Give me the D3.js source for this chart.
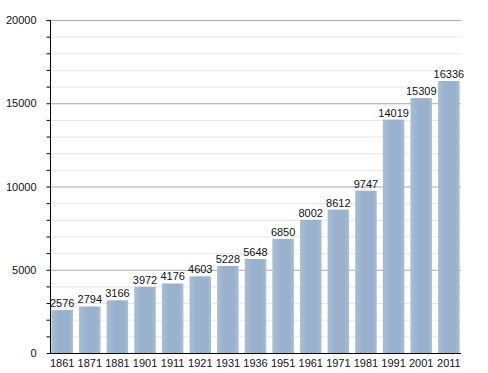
<!DOCTYPE html>
<html>
<head>
<meta charset="utf-8">
<script src="https://cdn.jsdelivr.net/npm/d3@7"></script>
<style>
  body { margin: 0; background: #fff; }
  text { font-family: "Liberation Sans", Arial, sans-serif; fill: #111; }
</style>
</head>
<body>
<div id="chart"></div>
<script>
var years = ['1861', '1871', '1881', '1901', '1911', '1921', '1931', '1936', '1951', '1961', '1971', '1981', '1991', '2001', '2011']
var population = [2576, 2794, 3166, 3972, 4176, 4603, 5228, 5648, 6850, 8002, 8612, 9747, 14019, 15309, 16336]
var majorTicks = [0, 5000, 10000, 15000, 20000]

var W = 488, H = 373
var margin = {top: 20, right: 27, bottom: 20, left: 50}

var svg = d3.select('#chart').append('svg')
  .attr('width', W)
  .attr('height', H)

var defs = svg.append('defs')
var grad = defs.append('linearGradient').attr('id', 'barGrad')
  .attr('x1', '0%').attr('x2', '100%').attr('y1', '0%').attr('y2', '0%')
grad.append('stop').attr('offset', '0%').attr('stop-color', '#a9bed6')
grad.append('stop').attr('offset', '35%').attr('stop-color', '#98b1cd')
grad.append('stop').attr('offset', '80%').attr('stop-color', '#98b1cd')
grad.append('stop').attr('offset', '100%').attr('stop-color', '#aabfd7')

var x = d3.scaleBand()
  .domain(years)
  .range([margin.left, W - margin.right])
  .paddingInner(0.22)
  .paddingOuter(0.05)

var y = d3.scaleLinear()
  .domain([0, 20000])
  .range([H - margin.bottom, margin.top])

// grid lines: light every 1000, darker every 5000
var minor = d3.range(1000, 20001, 1000).filter(function(v){ return v % 5000 != 0 })
svg.append('g').selectAll('line')
  .data(minor)
  .enter().append('line')
  .attr('x1', margin.left).attr('x2', W - margin.right)
  .attr('y1', function(d){ return y(d) + 0.5 })
  .attr('y2', function(d){ return y(d) + 0.5 })
  .style('stroke', '#e6e6e6')

svg.append('g').selectAll('line')
  .data(majorTicks.slice(1))
  .enter().append('line')
  .attr('x1', margin.left).attr('x2', W - margin.right)
  .attr('y1', function(d){ return y(d) + 0.5 })
  .attr('y2', function(d){ return y(d) + 0.5 })
  .style('stroke', '#ababab')

// bars
svg.append('g').selectAll('rect')
  .data(population)
  .enter().append('rect')
  .attr('x', function(d, i){ return x(years[i]) })
  .attr('y', function(d){ return y(d) })
  .attr('width', x.bandwidth())
  .attr('height', function(d){ return y(0) - y(d) })
  .style('fill', 'url(#barGrad)')

// value labels
svg.append('g').selectAll('text')
  .data(population)
  .enter().append('text')
  .attr('x', function(d, i){ return x(years[i]) + x.bandwidth() / 2 })
  .attr('y', function(d){ return y(d) - 3 })
  .attr('text-anchor', 'middle')
  .style('font-size', '11px')
  .text(function(d){ return d })

// y axis
var yAxis = d3.axisLeft(y)
  .tickValues(d3.range(0, 20001, 1000))
  .tickSize(4)
  .tickFormat(function(d){ return d % 5000 == 0 ? d : '' })
var ya = svg.append('g')
  .attr('transform', 'translate(' + (margin.left + 0.5) + ',0)')
  .call(yAxis)
ya.select('.domain').attr('d', 'M-4,' + (y(20000) + 0.5) + 'H0V' + (y(0) + 0.5)).style('stroke', '#000')
ya.selectAll('.tick line').style('stroke', '#000')
ya.selectAll('.tick text')
  .attr('x', -14)
  .style('font-size', '11px')
  .style('font-family', '"Liberation Sans", Arial, sans-serif')
  .style('fill', '#111')

// x axis
var xAxis = d3.axisBottom(x).tickSize(0).tickPadding(6)
var xa = svg.append('g')
  .attr('transform', 'translate(0,' + (y(0) + 0.5) + ')')
  .call(xAxis)
xa.select('.domain').attr('d', 'M' + margin.left + ',0H' + (W - margin.right)).style('stroke', '#000')
xa.selectAll('.tick text')
  .style('font-size', '11px')
  .style('font-family', '"Liberation Sans", Arial, sans-serif')
  .style('fill', '#111')
</script>
</body>
</html>
